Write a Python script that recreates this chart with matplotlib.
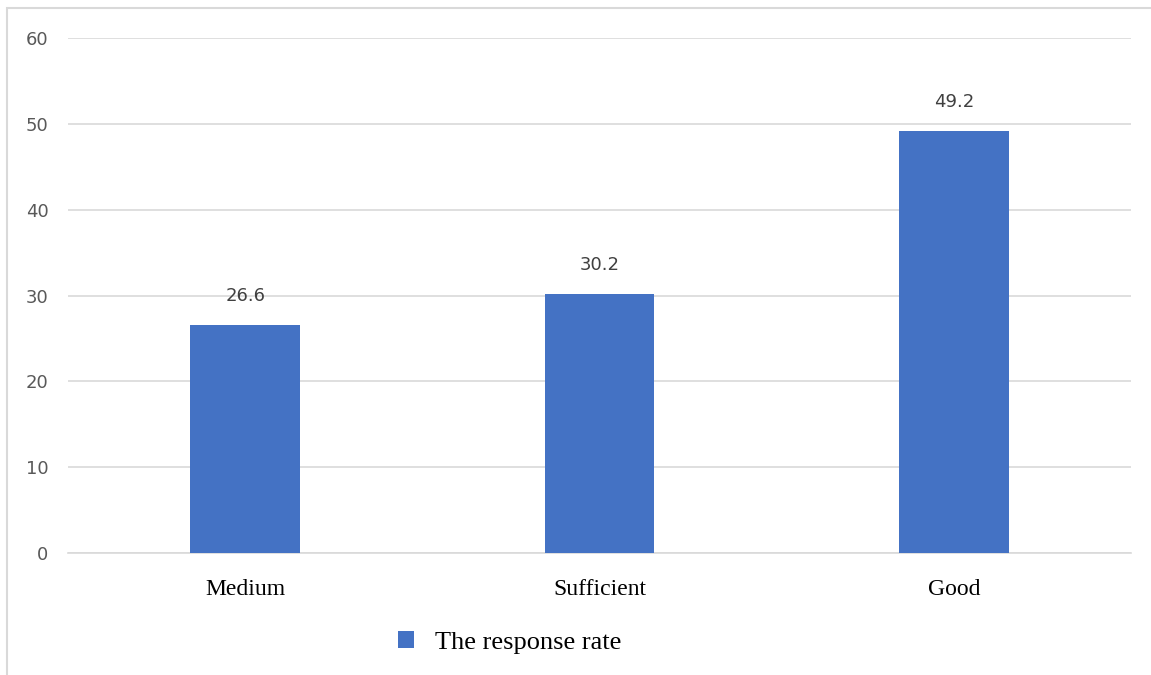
import matplotlib.pyplot as plt
from matplotlib.patches import Rectangle

categories = ['Medium', 'Sufficient', 'Good']
response_rate = [26.6, 30.2, 49.2]
y_ticks = [0, 10, 20, 30, 40, 50, 60]

bar_color = '#4472C4'
grid_color = '#D9D9D9'
label_color = '#595959'

fig = plt.figure(figsize=(11.51, 6.75), dpi=100)
ax = fig.add_axes([0.0591, 0.1807, 0.9235, 0.763])

x = range(len(categories))
bars = ax.bar(x, response_rate, width=0.31, color=bar_color, zorder=3)

for bar, val in zip(bars, response_rate):
    ax.annotate(f'{val}', (bar.get_x() + bar.get_width() / 2, val),
                xytext=(0, 14), textcoords='offset points',
                ha='center', va='bottom', fontsize=13, color='#404040',
                family='DejaVu Sans')

ax.set_xlim(-0.5, len(categories) - 0.5)
ax.set_ylim(0, 60)
ax.set_yticks(y_ticks)
ax.set_yticklabels([str(t) for t in y_ticks], fontsize=13, color=label_color)
ax.set_xticks(list(x))
ax.set_xticklabels(categories, fontsize=17, family='Liberation Serif', color='black')
ax.tick_params(axis='y', length=0, pad=14)
ax.tick_params(axis='x', length=0, pad=19)

ax.yaxis.grid(True, color=grid_color, linewidth=1.2, zorder=0)
for side in ['top', 'right', 'left']:
    ax.spines[side].set_visible(False)
ax.spines['bottom'].set_color(grid_color)
ax.spines['bottom'].set_linewidth(1.2)

# legend below the plot
leg = fig.legend([bars[0]], ['The response rate'], loc='center',
                 bbox_to_anchor=(0.443, 0.048), frameon=False,
                 prop={'family': 'Liberation Serif', 'size': 19},
                 handlelength=0.6, handleheight=0.6, handletextpad=0.8)

# light outer frame
fig.patches.append(Rectangle((7 / 1151, -0.1), 1.2, 1 - 8 / 675 + 0.1,
                             transform=fig.transFigure, fill=False,
                             edgecolor=grid_color, linewidth=1.5))

fig.savefig('out.png', dpi=100)
